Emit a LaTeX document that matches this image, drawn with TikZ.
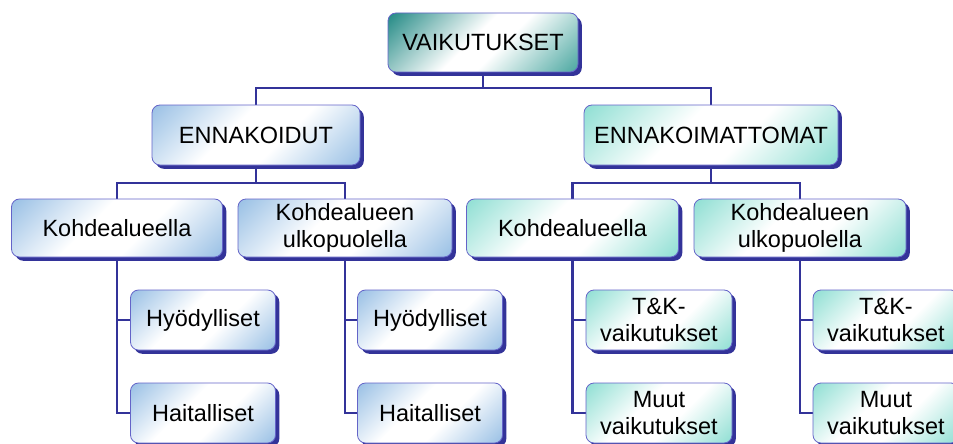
\documentclass[tikz,border=0pt]{standalone}
\usepackage{fontspec}
\setmainfont{Liberation Sans}
\usetikzlibrary{shadows,backgrounds}

\definecolor{lineblue}{RGB}{51,51,153}
\definecolor{edgeblue}{RGB}{100,100,200}
\definecolor{lblue}{RGB}{150,190,228}
\definecolor{lteal}{RGB}{140,222,210}
\definecolor{dteal}{RGB}{30,135,130}
\definecolor{mteal}{RGB}{70,165,158}

% diagonal fills: coloured corners, a broad white band in between
\pgfdeclareverticalshading{bluediag}{100bp}{color(0bp)=(lblue); color(14bp)=(lblue);
  color(42bp)=(white); color(58bp)=(white); color(86bp)=(lblue); color(100bp)=(lblue)}
\pgfdeclareverticalshading{tealdiag}{100bp}{color(0bp)=(lteal); color(14bp)=(lteal);
  color(42bp)=(white); color(58bp)=(white); color(86bp)=(lteal); color(100bp)=(lteal)}
\pgfdeclareverticalshading{rootdiag}{100bp}{color(0bp)=(mteal); color(14bp)=(mteal);
  color(44bp)=(white); color(54bp)=(white); color(86bp)=(dteal); color(100bp)=(dteal)}

\tikzset{
  box/.style={rounded corners=8pt, draw=edgeblue, line width=0.8pt,
    inner sep=0pt, align=center, text=black,
    font=\fontsize{23.5}{27}\selectfont,
    drop shadow={shadow xshift=3.8pt, shadow yshift=-3.8pt,
      fill=lineblue, opacity=1}},
  bluebox/.style={box, shading=bluediag, shading angle=45},
  tealbox/.style={box, shading=tealdiag, shading angle=45},
  rootbox/.style={box, shading=rootdiag, shading angle=45},
  conn/.style={draw=lineblue, line width=2.6pt},
}

\begin{document}
\begin{tikzpicture}[x=1pt, y=-1pt]
\useasboundingbox (0,0) rectangle (953,444);

% junction points of the tree lines
\coordinate (j1) at (483,88);
\coordinate (j2) at (256,183);
\coordinate (j3) at (711,183);

% root
\node[rootbox, minimum width=190pt, minimum height=59pt] (root) at (483,42.5) {VAIKUTUKSET};

% second level
\node[bluebox, minimum width=208pt, minimum height=60pt] (enn) at (256,135) {ENNAKOIDUT};
\node[tealbox, minimum width=254pt, minimum height=60pt] (ennm) at (711,135) {ENNAKOIMATTOMAT};

% third level
\node[bluebox, minimum width=211pt, minimum height=58pt] (ka) at (117,228) {Kohdealueella};
\node[bluebox, minimum width=214pt, minimum height=58pt] (kb) at (345,228) {Kohdealueen\\ulkopuolella};
\node[tealbox, minimum width=212pt, minimum height=58pt] (kc) at (572.5,228) {Kohdealueella};
\node[tealbox, minimum width=212pt, minimum height=58pt] (kd) at (800,228) {Kohdealueen\\ulkopuolella};

% fourth level
\node[bluebox, minimum width=145pt, minimum height=60pt] (a1) at (203,320) {Hyödylliset};
\node[bluebox, minimum width=145pt, minimum height=60pt] (a2) at (203,413) {Haitalliset};
\node[bluebox, minimum width=145pt, minimum height=60pt] (b1) at (430,320) {Hyödylliset};
\node[bluebox, minimum width=145pt, minimum height=60pt] (b2) at (430,413) {Haitalliset};
\node[tealbox, minimum width=146pt, minimum height=60pt] (c1) at (659,320) {T\&K-\\vaikutukset};
\node[tealbox, minimum width=146pt, minimum height=60pt] (c2) at (659,413) {Muut\\vaikutukset};
\node[tealbox, minimum width=146pt, minimum height=60pt] (d1) at (886,320) {T\&K-\\vaikutukset};
\node[tealbox, minimum width=146pt, minimum height=60pt] (d2) at (886,413) {Muut\\vaikutukset};

% tree lines, drawn behind the boxes
\begin{scope}[on background layer]
\draw[conn] (root.south) -- (j1);
\draw[conn] (enn.north) |- (j1) -| (ennm.north);
\draw[conn] (enn.south) -- (j2);
\draw[conn] (ka.north) |- (j2) -| (kb.north);
\draw[conn] (ennm.south) -- (j3);
\draw[conn] (kc.north) |- (j3) -| (kd.north);
\draw[conn] (ka.south) |- (a1.west);
\draw[conn] (ka.south) |- (a2.west);
\draw[conn] (kb.south) |- (b1.west);
\draw[conn] (kb.south) |- (b2.west);
\draw[conn] (kc.south) |- (c1.west);
\draw[conn] (kc.south) |- (c2.west);
\draw[conn] (kd.south) |- (d1.west);
\draw[conn] (kd.south) |- (d2.west);
\end{scope}
\end{tikzpicture}
\end{document}
